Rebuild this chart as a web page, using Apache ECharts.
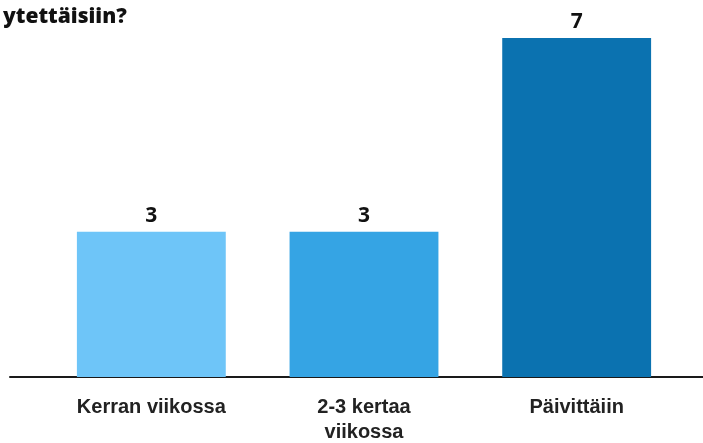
<!DOCTYPE html>
<html>
<head>
<meta charset="utf-8">
<script src="https://cdn.jsdelivr.net/npm/echarts@6/dist/echarts.min.js"></script>
<style>
  html, body { margin: 0; padding: 0; background: #ffffff; }
  #chart { width: 703px; height: 443px; }
</style>
</head>
<body>
<div id="chart"></div>
<script>
// Answers per frequency option
const categories = ['Kerran viikossa', '2-3 kertaa\nviikossa', 'Päivittäiin'];
const counts = [3, 3, 7];
const barColors = ['#6ec5f8', '#35a4e4', '#0b72b0'];
const titleText = 'ytettäisiin?';

const chart = echarts.init(document.getElementById('chart'), null, { renderer: 'canvas' });

chart.setOption({
  animation: false,
  backgroundColor: '#ffffff',
  title: {
    text: titleText,
    left: -2,
    top: 2,
    textStyle: {
      fontFamily: 'Open Sans',
      fontWeight: 800,
      fontSize: 21,
      color: '#111111'
    }
  },
  grid: [
    { left: 45, right: 20, top: 38, bottom: 66, containLabel: false, outerBoundsMode: 'none' },
    { left: 10, right: 0, top: 38, bottom: 66, containLabel: false, outerBoundsMode: 'none' }
  ],
  xAxis: [
    {
      type: 'category',
      gridIndex: 0,
      data: categories,
      axisLine: { show: false },
      axisTick: { show: false },
      axisLabel: {
        margin: 18,
        fontFamily: 'Liberation Sans',
        fontSize: 20,
        fontWeight: 'bold',
        color: '#222222',
        lineHeight: 25
      }
    },
    {
      // baseline rule running across the full width
      type: 'value',
      gridIndex: 1,
      min: 0,
      max: 1,
      axisLine: { show: true, lineStyle: { color: '#1a1a1a', width: 2 } },
      axisTick: { show: false },
      axisLabel: { show: false },
      splitLine: { show: false }
    }
  ],
  yAxis: [
    { type: 'value', gridIndex: 0, min: 0, max: 7, show: false },
    { type: 'value', gridIndex: 1, min: 0, max: 1, show: false }
  ],
  series: [
    {
      type: 'bar',
      xAxisIndex: 0,
      yAxisIndex: 0,
      barWidth: '70%',
      data: counts.map((v, i) => ({ value: v, itemStyle: { color: barColors[i] } })),
      label: {
        show: true,
        position: 'top',
        distance: 5,
        fontFamily: 'Open Sans',
        fontWeight: 'bold',
        fontSize: 21,
        color: '#111111'
      }
    }
  ]
});
</script>
</body>
</html>
